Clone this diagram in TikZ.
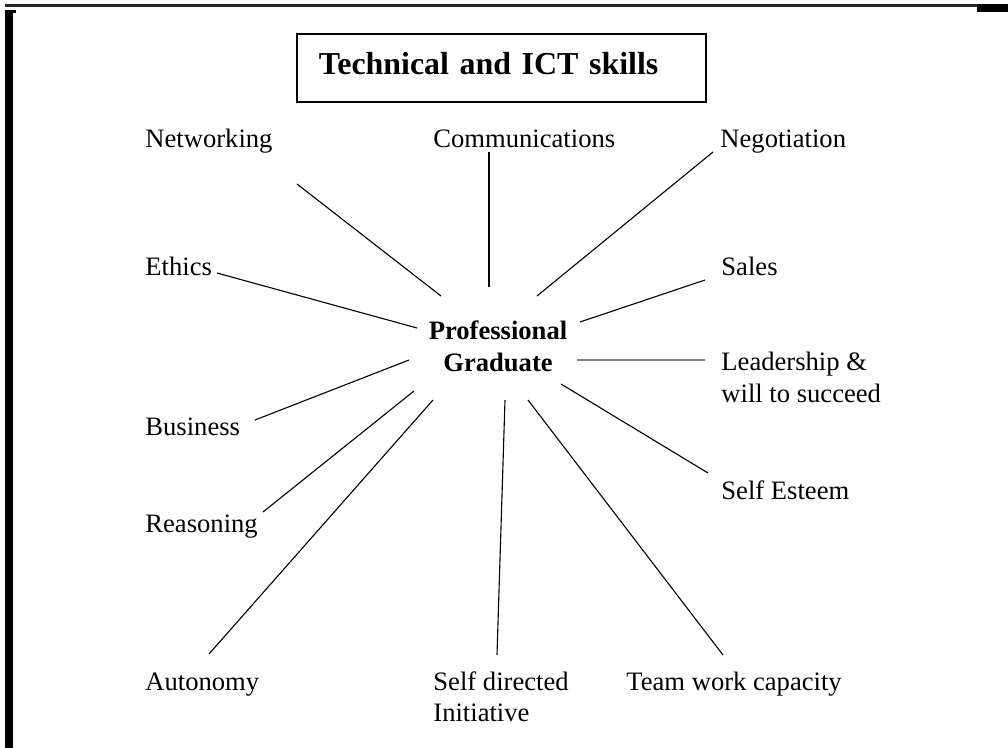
\documentclass[tikz,border=0pt]{standalone}
\usepackage{fontspec}
\setmainfont{Liberation Serif}
\usepackage{tikz}

\tikzset{
  skill/.style={anchor=base west, inner sep=0pt, font=\fontsize{12}{14}\selectfont},
  skilltwo/.style={anchor=north west, inner sep=0pt, align=left, font=\fontsize{12}{14.2}\selectfont},
  spoke/.style={line width=0.5pt},
  graduate/.style={inner sep=0pt, align=center, font=\fontsize{12}{14.4}\selectfont\bfseries},
  titlebox/.style={draw, line width=0.9pt, anchor=north west, inner xsep=9.9pt,
    text width=164.7pt, align=left, minimum height=30.7pt,
    text height=9.9pt, text depth=4.1pt, font=\fontsize{14.4}{17}\selectfont\bfseries}
}

\begin{document}
\begin{tikzpicture}[x=0.4511pt, y=-0.4511pt]
\useasboundingbox (0,0) rectangle (1008,748);
% page frame
\fill[black!85] (5,4) rectangle (977,7);
\fill (977,4) rectangle (1008,12);
\fill (5,10) rectangle (13,748);
\fill (13,10) rectangle (16,12.5);

\node [titlebox] (ict) at (296,33) {Technical and ICT skills};
\node [graduate] (pg) at (498,346) {Professional\\Graduate};

\node [skill] (net) at (145,147) {Networking};
\node [skill] (com) at (433,147) {Communications};
\node [skill] (neg) at (720,147) {Negotiation};
\node [skill] (eth) at (145,275) {Ethics};
\node [skill] (sal) at (721,275) {Sales};
\node [skilltwo] (lead) at (721,352) {Leadership \&\\will to succeed};
\node [skill] (bus) at (145,435) {Business};
\node [skill] (est) at (721,499) {Self Esteem};
\node [skill] (rea) at (145,532) {Reasoning};
\node [skill] (aut) at (145,690) {Autonomy};
\node [skilltwo] (sdi) at (433,671) {Self directed\\Initiative};
\node [skill] (team) at (626,690) {Team work capacity};

% free ends of the spokes
\coordinate (net-o) at (297,184);  \coordinate (net-i) at (441,296);
\coordinate (com-o) at (489,152);  \coordinate (com-i) at (489,287);
\coordinate (neg-o) at (713,152);  \coordinate (neg-i) at (537,296);
\coordinate (eth-o) at (217,273);  \coordinate (eth-i) at (417,328);
\coordinate (sal-o) at (705,280);  \coordinate (sal-i) at (580,322);
\coordinate (lead-o) at (705,360); \coordinate (lead-i) at (577,360);
\coordinate (bus-o) at (255,420);  \coordinate (bus-i) at (409,360);
\coordinate (est-o) at (708,473);  \coordinate (est-i) at (561,384);
\coordinate (rea-o) at (263,512);  \coordinate (rea-i) at (414,391);
\coordinate (aut-o) at (209,654);  \coordinate (aut-i) at (433,400);
\coordinate (sdi-o) at (497,655);  \coordinate (sdi-i) at (505,400);
\coordinate (team-o) at (723,655); \coordinate (team-i) at (528,400);

\draw [spoke] (net-o) -- (net-i);
\draw [spoke] (com-o) -- (com-i);
\draw [spoke] (neg-o) -- (neg-i);
\draw [spoke] (eth-o) -- (eth-i);
\draw [spoke] (sal-o) -- (sal-i);
\draw [line width=1pt, black!50] (lead-o) -- (lead-i);
\draw [spoke] (bus-o) -- (bus-i);
\draw [spoke] (est-o) -- (est-i);
\draw [spoke] (rea-o) -- (rea-i);
\draw [spoke] (aut-o) -- (aut-i);
\draw [spoke] (sdi-o) -- (sdi-i);
\draw [spoke] (team-o) -- (team-i);
\end{tikzpicture}
\end{document}
